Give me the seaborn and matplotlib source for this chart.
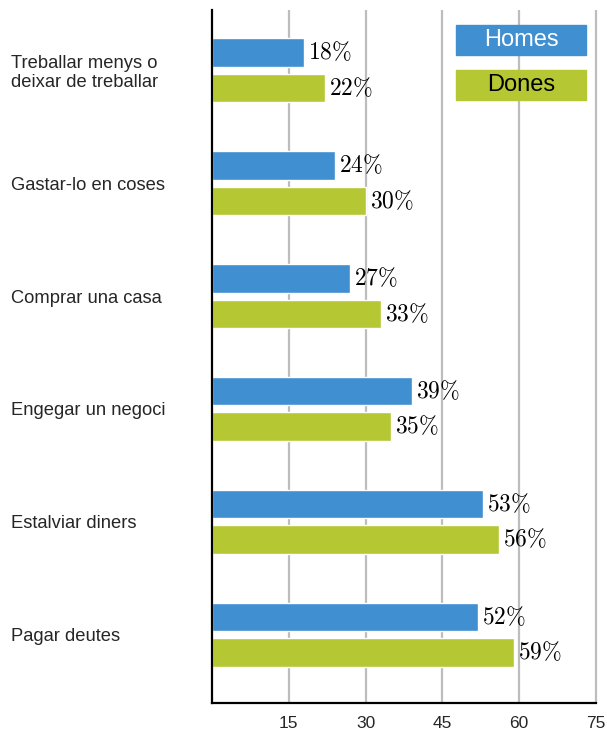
import pandas as pd
import matplotlib
matplotlib.use("Agg")
import matplotlib.pyplot as plt
import seaborn as sns

categories = [
    "Treballar menys o\ndeixar de treballar",
    "Gastar-lo en coses",
    "Comprar una casa",
    "Engegar un negoci",
    "Estalviar diners",
    "Pagar deutes",
]
homes = [18, 24, 27, 39, 53, 52]
dones = [22, 30, 33, 35, 56, 59]
series = ["Homes", "Dones"]
colors = ["#3F8FD1", "#B5C833"]
xticks = [15, 30, 45, 60, 75]

data = pd.DataFrame({
    "categoria": categories * 2,
    "sexe": [series[0]] * len(categories) + [series[1]] * len(categories),
    "valor": homes + dones,
})

sns.set_style("white")
plt.rcParams["font.family"] = ["Liberation Sans", "DejaVu Sans"]
plt.rcParams["mathtext.fontset"] = "cm"

fig = plt.figure(figsize=(6.07, 7.35), dpi=100)
ax = fig.add_axes([212 / 607, 32 / 735, 386 / 607, 693 / 735])

sns.barplot(data=data, y="categoria", x="valor", hue="sexe", orient="h",
            palette=colors, width=0.63, gap=0.2, saturation=1,
            legend=False, ax=ax)

ax.set_xlim(0, 75.4)
ax.set_ylim(5.606, -0.535)
ax.set_xticks(xticks)
ax.set_xticklabels([str(t) for t in xticks], fontsize=12.5)
ax.grid(axis="x", color="#bdbdbd", linewidth=1.6)
ax.set_axisbelow(True)
ax.set_xlabel("")
ax.set_ylabel("")

for s in ["top", "right"]:
    ax.spines[s].set_visible(False)
for s in ["left", "bottom"]:
    ax.spines[s].set_color("black")
    ax.spines[s].set_linewidth(1.6)
ax.spines["bottom"].set_bounds(0, 75)

ax.tick_params(axis="x", length=0, pad=9)
ax.tick_params(axis="y", length=0, pad=145)
for lab in ax.get_yticklabels():
    lab.set_ha("left")
    lab.set_fontsize(13.2)
    lab.set_linespacing(1.1)

for cont, vals in zip(ax.containers, [homes, dones]):
    ax.bar_label(cont, labels=[rf"${v}\%$" for v in vals], padding=3,
                 fontsize=17, color="black")

# legend boxes drawn like the original
for i, (name, col, tc) in enumerate(zip(series, colors, ["white", "black"])):
    top = 0.978 - i * 0.065
    ax.add_patch(plt.Rectangle((0.633, top - 0.043), 0.336, 0.043,
                               transform=ax.transAxes, color=col,
                               zorder=3, clip_on=False))
    ax.text(0.801, top - 0.0215, name, transform=ax.transAxes,
            ha="center", va="center", fontsize=17, color=tc, zorder=4)

fig.savefig("out.png", dpi=100)
